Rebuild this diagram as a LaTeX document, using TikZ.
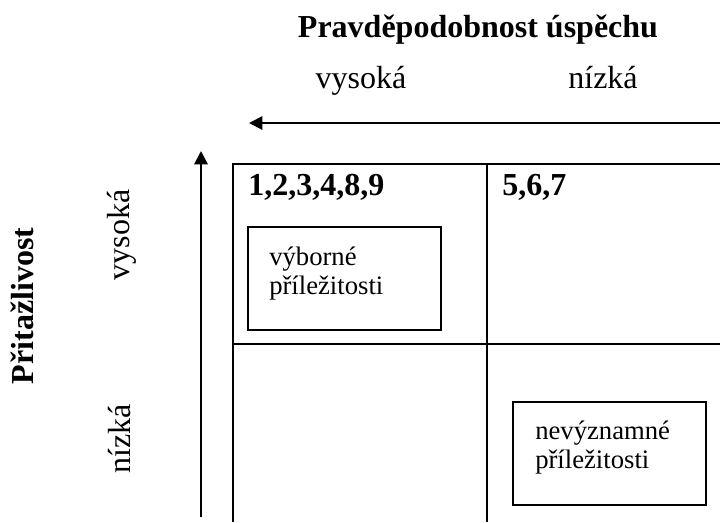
\documentclass[tikz,border=0pt]{standalone}
\usepackage{fontspec}
\setmainfont{Liberation Serif}
\usetikzlibrary{arrows.meta}
\begin{document}
\begin{tikzpicture}[x=0.75pt,y=-0.75pt,
  gridline/.style={line width=1.5pt},
  axisarrow/.style={line width=1.5pt,-{Triangle[length=10pt,width=10pt]}},
  oppbox/.style={draw,line width=1.1pt,inner sep=0pt,minimum width=144.75pt,minimum height=77.25pt},
  big/.style={font=\fontsize{24}{28}\selectfont,inner sep=0pt},
  bigb/.style={font=\bfseries\fontsize{24}{28}\selectfont,inner sep=0pt},
  boxtext/.style={font=\fontsize{20}{21.5}\selectfont,align=left,inner sep=0pt,anchor=north west}]
\useasboundingbox (0,0) rectangle (720,522);
% titles
\node[bigb,anchor=base] (title) at (478,37) {Pravděpodobnost úspěchu};
\node[big,anchor=base] (hhigh) at (361,88) {vysoká};
\node[big,anchor=base] (hlow) at (603,88) {nízká};
\node[bigb,rotate=90,anchor=base] (vtitle) at (33,306) {Přitažlivost};
\node[big,rotate=90,anchor=base] (vhigh) at (129,235) {vysoká};
\node[big,rotate=90,anchor=base] (vlow) at (130,439) {nízká};
% axes
\coordinate (hstart) at (720,123);
\coordinate (hend) at (249,123);
\coordinate (vstart) at (201,517);
\coordinate (vend) at (201,151);
\draw[axisarrow] (hstart) -- (hend);
\draw[axisarrow] (vstart) -- (vend);
% grid
\coordinate (gBL) at (233,522);
\coordinate (gTL) at (233,164);
\coordinate (gTR) at (720,164);
\coordinate (gMT) at (487,164);
\coordinate (gMB) at (487,522);
\coordinate (gML) at (233,344);
\coordinate (gMR) at (720,344);
\draw[gridline] (gBL) -- (gTL) -- (gTR);
\draw[gridline] (gMT) -- (gMB);
\draw[gridline] (gML) -- (gMR);
% cell labels
\node[bigb,anchor=base west] (c1) at (248,195) {1,2,3,4,8,9};
\node[bigb,anchor=base west] (c2) at (502,195) {5,6,7};
% boxes
\node[oppbox] (box1) at (344.5,278.5) {};
\node[oppbox] (box2) at (609.5,453.5) {};
\node[boxtext] (t1) at (269,247) {výborné\\příležitosti};
\node[boxtext] (t2) at (535,421) {nevýznamné\\příležitosti};
\end{tikzpicture}
\end{document}
